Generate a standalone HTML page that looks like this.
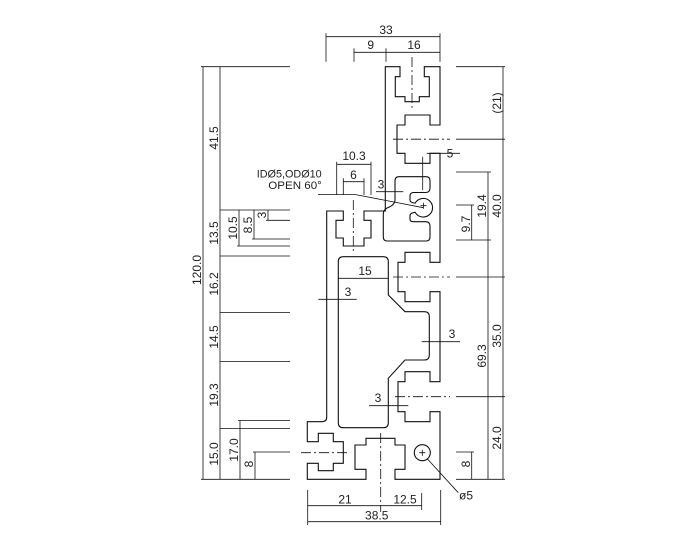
<!DOCTYPE html>
<html><head><meta charset="utf-8"><style>
html,body{margin:0;padding:0;background:#fff;}
svg{display:block;}
text{font-family:"Liberation Sans",Arial,sans-serif;font-size:12px;fill:#222;}
</style></head><body>
<svg width="700" height="550" viewBox="0 0 700 550" xmlns="http://www.w3.org/2000/svg">
<g fill="none" stroke="#111" stroke-width="1.1">
<!-- outer profile -->
<path d="M385.3,66.7 H400 V76.7 H395.3 V96.7 H405 V101.7 H419.3 V96.7 H429.3 V76.7 H424.3 V66.7 H440
V125 H430 V115 H405 V125 H397 V153.3 H405 V163.3 H430 V153.3 H440
V262.3 H430 V252.3 H405 V262.3 H398 V291.7 H405 V301.7 H430 V291.7 H440
V381.7 H430 V371.7 H405 V381.7 H398 V411.7 H405 V421.7 H430 V411.7 H440
V479.3 H395 V469.3 H405 V445 H395 V438.3 H366 V445 H355 V469.3 H366 V479.3 H307.3
V463.3 H318.3 V470.7 H333.3 V463.3 H343.3 V441.7 H333.3 V433.3 H318.3 V441.7 H307.3 V421.7
H322 Q326.7,421.7 326.7,417 V211 H343.3 V220.3 H336 V238 H343.3 V246 H364 V238 H371 V220.3 H364 V211 H385.3 Z"/>
<!-- snap cavity -->
<path d="M399,176.7 H426 Q430,176.7 430,180.7 V188 Q430,192.3 426,192.5 H413 Q410,193 410,196 V200 Q410,202.8 415.2,203.05 A9.3,9.3 0 1 1 415.2,212.35 Q410,212.8 410,216 V219 Q410,221.7 413,221.7 H426 Q430,222 430,226 V237 Q430,241 426,241 H387.3 Q383.3,241 383.3,237 V214 Q383.3,210 387,208 Q395,205 395,200 V180.7 Q395,176.7 399,176.7 Z"/>
<!-- big cavity -->
<path d="M343.3,256.7 H383.3 Q388.3,256.7 388.3,261.7 V295 L405,311.7 H424.3 Q429.3,311.7 429.3,316.7 V355 Q429.3,360 424.3,360 H405 L388.3,378.3 V422.7 Q388.3,427.7 383.3,427.7 H343.3 Q338.3,427.7 338.3,422.7 V261.7 Q338.3,256.7 343.3,256.7 Z"/>
<!-- hole -->
<circle cx="422.3" cy="452.7" r="8"/>
</g>
<g stroke="#111" stroke-width="0.8" fill="none">
<path d="M419.3,452.7 h6 M422.3,449.7 v6 M420.5,205.7 h6 M423.5,202.7 v6"/>
<!-- center lines -->
<g stroke-dasharray="10 3 2 3">
<path d="M393,139.2 H450 M393,277 H450 M395,396.7 H450 M412,57 V110 M301,452.7 H349 M380.7,433 V512 M353.3,200 V252"/>
</g>
<!-- top dims -->
<path d="M326,36.7 H440 M326,33.3 V61.7 M440,33.3 V61.7 M354,52.3 H440 M354,48.3 V61.7 M386,48.3 V61.7"/>
<!-- bottom dims -->
<path d="M307.7,505.7 H421.7 M307.7,490 V525 M421.7,493 V510 M307.7,521.7 H440.7 M440.7,490 V525"/>
<!-- left dims -->
<path d="M203,66.7 V479.3 M220,66.7 V479.3 M239,210 V246 M254,210 V239 M268,210 V220.3 M240,420.5 V479.3 M255,452 V479.3"/>
<path d="M201,66.7 H290 M220,210 H290 M266,220.3 H290 M252,239 H290 M237,246 H290 M220,256 H290 M220,312.5 H290 M220,361.5 H290 M238,420.5 H290 M220,428.5 H290 M253,452 H290 M201,479.3 H290"/>
<!-- right dims -->
<path d="M503,66.7 V479.3 M488,172 V479.3 M471.7,205 V240 M471.7,452 V479.3"/>
<path d="M456,66.7 H505 M456,139.2 H505 M456,172 H491 M456,205 H474 M456,240 H491 M456,277 H505 M456,396.7 H505 M456,452 H474 M456,479.3 H505"/>
<!-- misc leaders -->
<path d="M336.7,161.7 V195 M371,161.7 V195 M336.7,164.3 H371 M343.3,178.3 V195 M364,178.3 V195 M343.3,181.7 H364"/>
<path d="M318,194.5 H355 L423.3,207.7"/>
<path d="M376,191.7 H403.3 M422.7,156.7 V190 M426.7,153.3 H460"/>
<path d="M338.3,278.3 H388.3 M318.3,299.3 H356.7 M421.7,341.7 H460 M369,405.7 H408.3"/>
<path d="M427,458.5 L458.3,492.7"/>
</g>
<g>
<text x="386" y="34" text-anchor="middle">33</text>
<text x="370.7" y="49" text-anchor="middle">9</text>
<text x="414" y="49" text-anchor="middle">16</text>
<text x="345" y="503.3" text-anchor="middle">21</text>
<text x="405" y="503.3" text-anchor="middle">12.5</text>
<text x="376.7" y="519.3" text-anchor="middle">38.5</text>
<text x="459" y="499.3">ø5</text>
<text x="256.7" y="177.3" textLength="65" lengthAdjust="spacingAndGlyphs" style="font-size:11px">IDØ5,ODØ10</text>
<text x="268.3" y="189" textLength="53.5" lengthAdjust="spacingAndGlyphs" style="font-size:11px">OPEN 60°</text>
<text x="354" y="160" text-anchor="middle">10.3</text>
<text x="353.5" y="179" text-anchor="middle">6</text>
<text x="381" y="188.3" text-anchor="middle">3</text>
<text x="450" y="157.5" text-anchor="middle">5</text>
<text x="365" y="275" text-anchor="middle">15</text>
<text x="348" y="296" text-anchor="middle">3</text>
<text x="452" y="338" text-anchor="middle">3</text>
<text x="378" y="402" text-anchor="middle">3</text>
<!-- left rotated -->
<text transform="translate(201,270) rotate(-90)" text-anchor="middle">120.0</text>
<text transform="translate(218,138) rotate(-90)" text-anchor="middle">41.5</text>
<text transform="translate(218,233) rotate(-90)" text-anchor="middle">13.5</text>
<text transform="translate(237,228) rotate(-90)" text-anchor="middle">10.5</text>
<text transform="translate(252,225) rotate(-90)" text-anchor="middle">8.5</text>
<text transform="translate(266,215) rotate(-90)" text-anchor="middle">3</text>
<text transform="translate(218,284) rotate(-90)" text-anchor="middle">16.2</text>
<text transform="translate(218,337) rotate(-90)" text-anchor="middle">14.5</text>
<text transform="translate(218,395) rotate(-90)" text-anchor="middle">19.3</text>
<text transform="translate(218,454) rotate(-90)" text-anchor="middle">15.0</text>
<text transform="translate(238,450) rotate(-90)" text-anchor="middle">17.0</text>
<text transform="translate(253,464) rotate(-90)" text-anchor="middle">8</text>
<!-- right rotated -->
<text transform="translate(501,103) rotate(-90)" text-anchor="middle">(21)</text>
<text transform="translate(501,206) rotate(-90)" text-anchor="middle">40.0</text>
<text transform="translate(486,206) rotate(-90)" text-anchor="middle">19.4</text>
<text transform="translate(470,224) rotate(-90)" text-anchor="middle">9.7</text>
<text transform="translate(501,336) rotate(-90)" text-anchor="middle">35.0</text>
<text transform="translate(486,356) rotate(-90)" text-anchor="middle">69.3</text>
<text transform="translate(501,438) rotate(-90)" text-anchor="middle">24.0</text>
<text transform="translate(470,464) rotate(-90)" text-anchor="middle">8</text>
</g>
</svg>
</body></html>
